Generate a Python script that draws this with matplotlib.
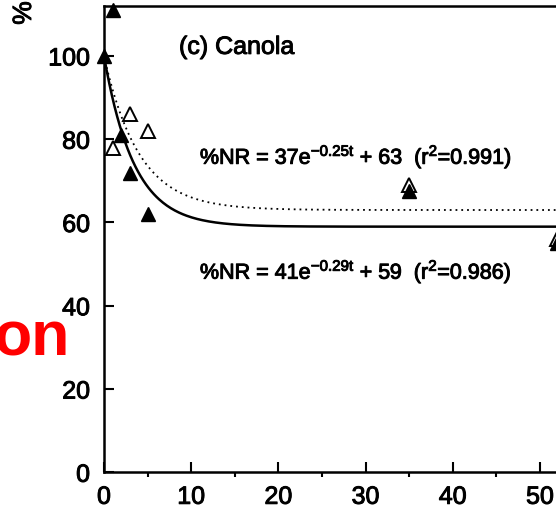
import matplotlib
matplotlib.use('Agg')
import matplotlib.pyplot as plt
import matplotlib.patheffects as pe
import numpy as np

plt.rcParams['font.family'] = ['Liberation Sans', 'DejaVu Sans']
plt.rcParams['mathtext.default'] = 'regular'

# measured % nitrogen remaining, canola
days_filled = [0, 1, 2, 3, 5, 35, 52]
nr_filled = [100, 111, 81, 72, 62, 67.5, 55]
days_open = [1, 3, 5, 35, 52]
nr_open = [78, 86, 82, 69, 56]

# fitted model coefficients: a*exp(-k*t) + c
fit_solid = (41, 0.29, 59)
fit_dotted = (37, 0.25, 63)

bold_ink = [pe.withStroke(linewidth=0.7, foreground='black')]

fig = plt.figure(figsize=(5.56, 5.12), dpi=100)
ax = fig.add_axes([104/556, 39.7/512, 523.2/556, 466.3/512])

t = np.linspace(0, 60, 400)
a, k, c = fit_dotted
ax.plot(t, a*np.exp(-k*t) + c, color='black', lw=1.3, linestyle=(0, (1, 2.2)))
a, k, c = fit_solid
ax.plot(t, a*np.exp(-k*t) + c, color='black', lw=1.8)

ax.plot(days_open, nr_open, '^', ms=10, mfc='white', mec='black', mew=1.4, clip_on=False)
ax.plot(days_filled, nr_filled, '^', ms=10, color='black', clip_on=False)

ax.set_xlim(0, 60)
ax.set_ylim(0, 112)
ax.set_xticks([0, 10, 20, 30, 40, 50])
ax.set_xticks([5, 15, 25, 35, 45, 55], minor=True)
ax.set_yticks([0, 20, 40, 60, 80, 100])
ax.tick_params(direction='in', width=1.5, labelsize=18)
ax.tick_params(axis='y', length=7, pad=10)
ax.tick_params(axis='x', which='major', length=7, pad=9)
ax.tick_params(axis='x', which='minor', length=3.5, width=1.5)
for s in ax.spines.values():
    s.set_linewidth(1.8)
for lbl in ax.get_xticklabels() + ax.get_yticklabels():
    lbl.set_path_effects(bold_ink)

ax.text(8.6, 100.5, '(c) Canola', fontsize=18, ha='left', va='baseline',
        path_effects=bold_ink)
ax.text(11, 74.1, r'%NR = 37e$^{-0.25t}$ + 63  (r$^{2}$=0.991)', fontsize=15.5,
        ha='left', va='baseline', path_effects=bold_ink)
ax.text(11, 46.5, r'%NR = 41e$^{-0.29t}$ + 59  (r$^{2}$=0.986)', fontsize=15.5,
        ha='left', va='baseline', path_effects=bold_ink)

fig.text(24/556, 1 - 13/512, '%', rotation=90, fontsize=19, ha='center', va='center',
         path_effects=bold_ink)
fig.text(70/556, 1 - 356/512, 'on', color='red', fontsize=45, fontweight='bold',
         ha='right', va='baseline')

fig.savefig('out.png', dpi=100)
